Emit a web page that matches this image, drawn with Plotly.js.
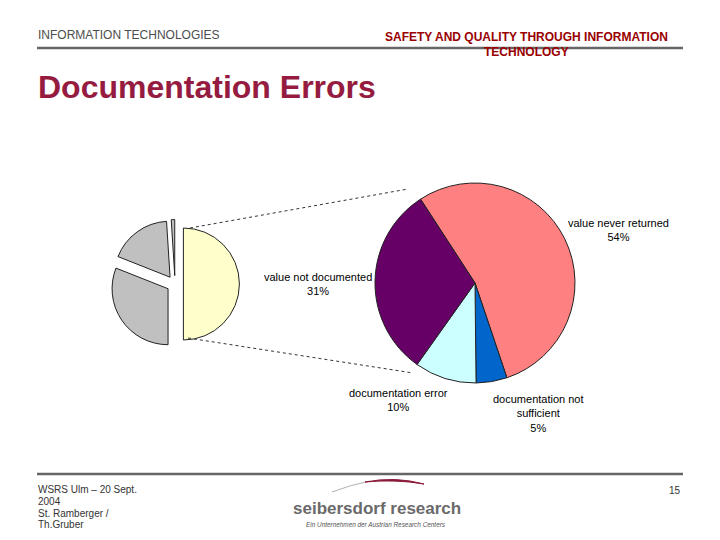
<!DOCTYPE html>
<html>
<head>
<meta charset="utf-8">
<script src="https://cdn.plot.ly/plotly-3.0.1.min.js"></script>
<style>html,body{margin:0;padding:0;background:#fff;}#chart{width:720px;height:540px;}</style>
</head>
<body>
<div id="chart"></div>
<script>
// ---- data ----
const bigLabels = ['value never returned', 'documentation not sufficient', 'documentation error', 'value not documented'];
const bigValues = [54, 5, 10, 31];
const bigColors = ['#FF8080', '#0066CC', '#CCFFFF', '#660066'];

const smallLabels = ['documentation errors', 'other errors A', 'other errors B', 'other errors C'];
const smallValues = [50, 31, 18, 1];
const smallColors = ['#FFFFCC', '#C0C0C0', '#C0C0C0', '#C0C0C0'];

const headerLeft = 'INFORMATION TECHNOLOGIES';
const headerRight = ['SAFETY AND QUALITY THROUGH INFORMATION', 'TECHNOLOGY'];
const titleText = 'Documentation Errors';
const footerLines = ['WSRS Ulm – 20 Sept.', '2004', 'St. Ramberger /', 'Th.Gruber'];
const pageNumber = '15';
const logoName = 'seibersdorf research';
const logoSub = 'Ein Unternehmen der Austrian Research Centers';

// ---- helpers (pixel -> paper) ----
const W = 720, H = 540;
const px = x => x / W;
const py = y => 1 - y / H;
const FONT = 'Liberation Sans, Arial, sans-serif';

// big pie label placement (label wrapping and positions)
const bigLabelText = [
  bigLabels[0],
  'documentation not<br>sufficient',
  bigLabels[2],
  bigLabels[3]
];
const bigLabelPos = [[618, 230], [538, 413], [398, 400], [318, 284]];

const traces = [
  {
    type: 'pie',
    labels: smallLabels,
    values: smallValues,
    sort: false,
    direction: 'clockwise',
    rotation: 0,
    pull: [0.15, 0.15, 0.15, 0.15],
    marker: {colors: smallColors, line: {color: '#222', width: 1}},
    textinfo: 'none',
    hoverinfo: 'none',
    domain: {x: [px(110.6), px(239.4)], y: [py(348.4), py(219.6)]}
  },
  {
    type: 'pie',
    labels: bigLabels,
    values: bigValues,
    sort: false,
    direction: 'clockwise',
    rotation: -33,
    marker: {colors: bigColors, line: {color: '#222', width: 1}},
    textinfo: 'none',
    hoverinfo: 'none',
    domain: {x: [px(375), px(575)], y: [py(383), py(183)]}
  }
];

const total = bigValues.reduce((a, b) => a + b, 0);
const annotations = [];
bigLabels.forEach((l, i) => {
  annotations.push({
    xref: 'paper', yref: 'paper',
    x: px(bigLabelPos[i][0]), y: py(bigLabelPos[i][1]),
    xanchor: 'center', yanchor: 'middle',
    text: bigLabelText[i] + '<br>' + Math.round(bigValues[i] / total * 100) + '%',
    showarrow: false, align: 'center',
    font: {family: FONT, size: 11, color: '#000'}
  });
});

// header / title / footer texts
annotations.push(
  {xref: 'paper', yref: 'paper', x: px(36), y: py(35), xanchor: 'left', yanchor: 'middle',
   text: headerLeft, showarrow: false, font: {family: FONT, size: 12, color: '#4d4d4d'}},
  {xref: 'paper', yref: 'paper', x: px(526.5), y: py(37.5), xanchor: 'center', yanchor: 'middle',
   text: '<b>' + headerRight[0] + '</b>', showarrow: false, font: {family: FONT, size: 12, color: '#990000'}},
  {xref: 'paper', yref: 'paper', x: px(526.5), y: py(52), xanchor: 'center', yanchor: 'middle',
   text: '<b>' + headerRight[1] + '</b>', showarrow: false, font: {family: FONT, size: 12, color: '#990000'}},
  {xref: 'paper', yref: 'paper', x: px(36), y: py(87), xanchor: 'left', yanchor: 'middle',
   text: '<b>' + titleText + '</b>', showarrow: false, font: {family: FONT, size: 32, color: '#951C40'}},
  {xref: 'paper', yref: 'paper', x: px(683), y: py(490), xanchor: 'right', yanchor: 'middle',
   text: pageNumber, showarrow: false, font: {family: FONT, size: 10, color: '#333'}},
  {xref: 'paper', yref: 'paper', x: px(377), y: py(509), xanchor: 'center', yanchor: 'middle',
   text: '<b>' + logoName + '</b>', showarrow: false, font: {family: FONT, size: 17, color: '#6a6a6a'}},
  {xref: 'paper', yref: 'paper', x: px(376), y: py(524), xanchor: 'center', yanchor: 'middle',
   text: '<i>' + logoSub + '</i>', showarrow: false, font: {family: FONT, size: 6.4, color: '#555'}}
);
footerLines.forEach((t, i) => {
  annotations.push({xref: 'paper', yref: 'paper', x: px(36), y: py(489.5 + i * 11.8), xanchor: 'left', yanchor: 'middle',
    text: t, showarrow: false, font: {family: FONT, size: 10, color: '#333'}});
});

const shapes = [
  // header / footer rules
  {type: 'line', xref: 'paper', yref: 'paper', x0: px(37), x1: px(683), y0: py(48), y1: py(48), line: {color: '#666', width: 2.5}},
  {type: 'line', xref: 'paper', yref: 'paper', x0: px(37), x1: px(683), y0: py(474), y1: py(474), line: {color: '#666', width: 2.5}},
  // pie-of-pie connector lines
  {type: 'line', xref: 'paper', yref: 'paper', x0: px(190), x1: px(408), y0: py(228), y1: py(189), line: {color: '#333', width: 1, dash: 'dot'}},
  {type: 'line', xref: 'paper', yref: 'paper', x0: px(188), x1: px(413), y0: py(338), y1: py(373), line: {color: '#333', width: 1, dash: 'dot'}},
  // logo swoosh (faint left part, dark red right part)
  {type: 'path', xref: 'paper', yref: 'paper',
   path: `M ${px(332)},${py(492)} Q ${px(350)},${py(485)} ${px(370)},${py(481)}`,
   line: {color: '#b0b0b0', width: 1}},
  {type: 'path', xref: 'paper', yref: 'paper',
   path: `M ${px(365)},${py(482)} Q ${px(395)},${py(476)} ${px(424)},${py(484)} Q ${px(395)},${py(479)} ${px(365)},${py(482)} Z`,
   fillcolor: '#8B1A3A', line: {color: '#8B1A3A', width: 1}}
];

const layout = {
  width: W, height: H,
  margin: {l: 0, r: 0, t: 0, b: 0},
  paper_bgcolor: '#fff', plot_bgcolor: '#fff',
  showlegend: false,
  annotations: annotations,
  shapes: shapes
};

Plotly.newPlot('chart', traces, layout, {displayModeBar: false, staticPlot: true});
</script>
</body>
</html>
